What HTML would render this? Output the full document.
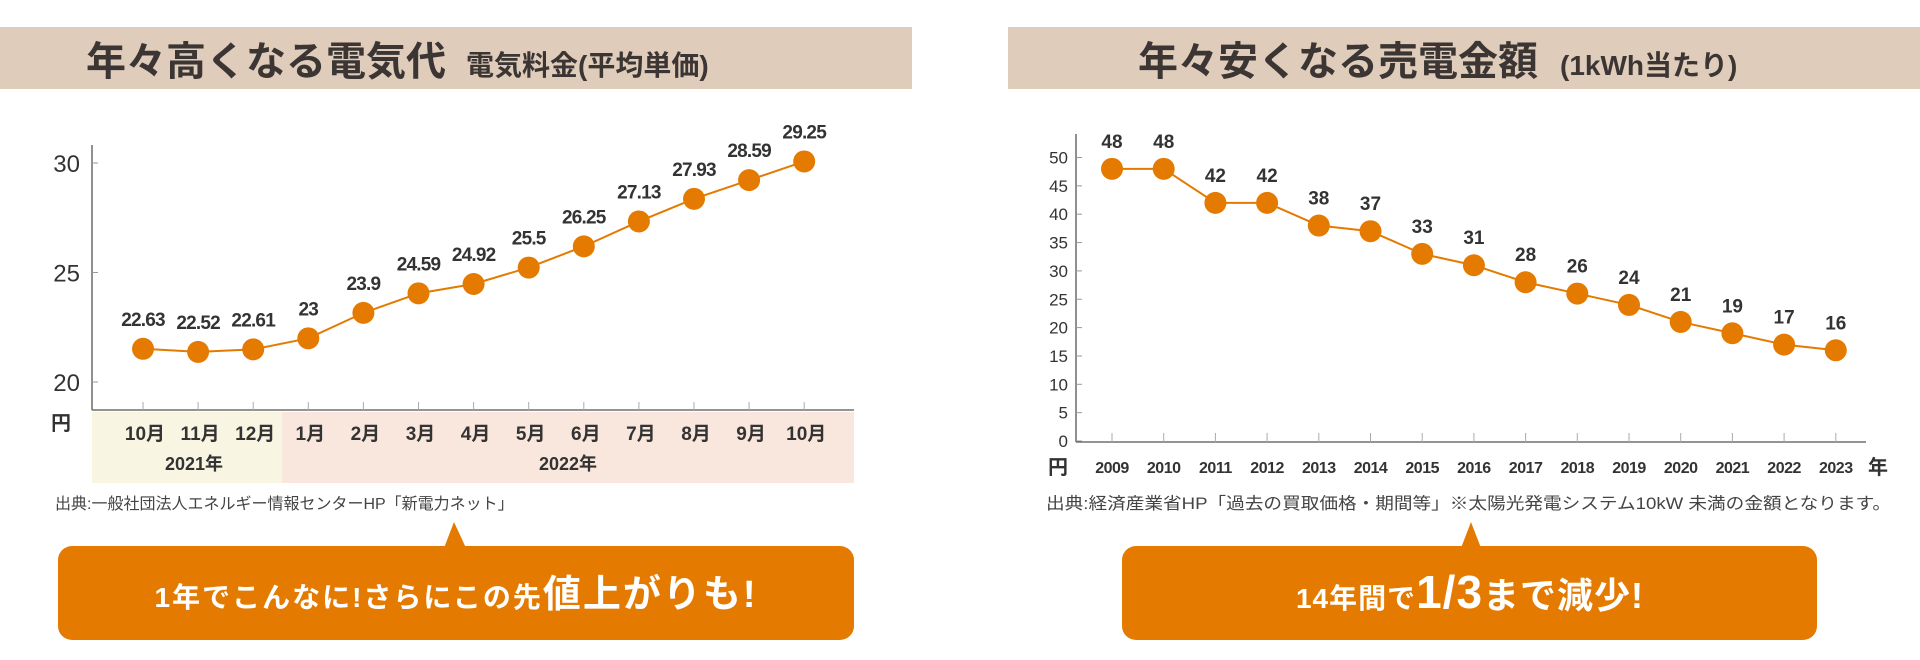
<!DOCTYPE html>
<html><head><meta charset="utf-8">
<style>
body{margin:0;background:#fff;}
svg{display:block;font-family:"Liberation Sans","Noto Sans CJK JP",sans-serif;}
</style></head>
<body>
<svg id="root" width="1920" height="660" viewBox="0 0 1920 660" xmlns="http://www.w3.org/2000/svg">
  <rect x="0" y="27" width="912" height="62" fill="#dfccbb"/>
  <text x="86" y="75" font-size="40" font-weight="bold" fill="#3b3633">年々高くなる電気代<tspan font-size="28" dx="20">電気料金(平均単価)</tspan></text>
  <rect x="1008" y="27" width="912" height="62" fill="#dfccbb"/>
  <text x="1138" y="75" font-size="40" font-weight="bold" fill="#3b3633">年々安くなる売電金額<tspan font-size="28" dx="22">(1kWh当たり)</tspan></text>

  <g id="leftChart"></g>
  <g id="rightChart"></g>

  <text x="55" y="509" font-size="16" fill="#444">出典:一般社団法人エネルギー情報センターHP「新電力ネット」</text>
  <text x="1046" y="509" font-size="16.5" fill="#444" textLength="845" lengthAdjust="spacingAndGlyphs">出典:経済産業省HP「過去の買取価格・期間等」※太陽光発電システム10kW 未満の金額となります。</text>

  <g>
    <polygon points="444,548 454,522 466,548" fill="#e47a00"/>
    <rect x="58" y="546" width="796" height="94" rx="14" fill="#e47a00"/>
    <text x="456" y="607" text-anchor="middle" font-size="28" font-weight="bold" fill="#fff" letter-spacing="2">1年でこんなに!さらにこの先<tspan font-size="38">値上がりも!</tspan></text>
  </g>
  <g>
    <polygon points="1461,548 1471,522 1481,548" fill="#e47a00"/>
    <rect x="1122" y="546" width="695" height="94" rx="14" fill="#e47a00"/>
    <text x="1470" y="608" text-anchor="middle" font-size="28" font-weight="bold" fill="#fff" letter-spacing="1">14年間で<tspan font-size="46">1/3</tspan><tspan font-size="36">まで減少!</tspan></text>
  </g>
</svg>
<script>
const NS = "http://www.w3.org/2000/svg";
// Left chart data
const leftCategories = ["10月","11月","12月","1月","2月","3月","4月","5月","6月","7月","8月","9月","10月"];
const leftValues = [22.63,22.52,22.61,23,23.9,24.59,24.92,25.5,26.25,27.13,27.93,28.59,29.25];
const leftLabels = ["22.63","22.52","22.61","23","23.9","24.59","24.92","25.5","26.25","27.13","27.93","28.59","29.25"];
const leftTicks = [20,25,30];
const leftYears = ["2021年","2022年"];
// Right chart data
const rightCategories = ["2009","2010","2011","2012","2013","2014","2015","2016","2017","2018","2019","2020","2021","2022","2023"];
const rightValues = [48,48,42,42,38,37,33,31,28,26,24,21,19,17,16];
const rightTicks = [0,5,10,15,20,25,30,35,40,45,50];

function mk(tag, attrs, parent){
  const e = document.createElementNS(NS, tag);
  for (const k in attrs) e.setAttribute(k, attrs[k]);
  parent.appendChild(e);
  return e;
}
const ORANGE = "#e47a00";

// ---- Left chart ----
(function(){
  const g = document.getElementById('leftChart');
  const x = i => 143 + i * 55.1;
  const y = v => 284 - (v - 24.92) * 28.3;
  const ty = v => 382 - (v - 20) * 21.9;
  // bands
  const b1 = mk('rect', {x:92, y:412, width:190, height:71, fill:'#f8f5e2'}, g);
  
  
  const b2 = mk('rect', {x:282, y:412, width:572, height:71, fill:'#f9e6dc'}, g);
  
  
  const yl1 = mk('text', {x:194, y:470, 'font-size':18, 'font-weight':'bold', fill:'#333', 'text-anchor':'middle'}, g);
  yl1.textContent = leftYears[0];
  
  
  const yl2 = mk('text', {x:568, y:470, 'font-size':18, 'font-weight':'bold', fill:'#333', 'text-anchor':'middle'}, g);
  yl2.textContent = leftYears[1];
  
  
  // axes
  const ya = mk('line', {x1:92, y1:145, x2:92, y2:410, stroke:'#555', 'stroke-width':1.3}, g);
  
  
  const xa = mk('line', {x1:92, y1:410, x2:854, y2:410, stroke:'#555', 'stroke-width':1.3}, g);
  
  
  leftTicks.forEach(v => {
    const t = mk('line', {x1:92, y1:ty(v), x2:98, y2:ty(v), stroke:'#999'}, g);
    
    
    const l = mk('text', {x:80, y:ty(v)+9, 'font-size':24, fill:'#333', 'text-anchor':'end'}, g);
    l.textContent = v;
    
    
  });
  const yu = mk('text', {x:61, y:430, 'font-size':20, 'font-weight':'bold', fill:'#333', 'text-anchor':'middle'}, g);
  yu.textContent = '円';
  
  
  leftCategories.forEach((c, i) => {
    const t = mk('line', {x1:x(i), y1:402, x2:x(i), y2:410, stroke:'#aaa'}, g);
    
    
    const l = mk('text', {x:x(i)+2, y:440, 'font-size':19, 'font-weight':'bold', fill:'#333', 'text-anchor':'middle'}, g);
    l.textContent = c;
    
    
  });
  const pts = leftValues.map((v, i) => x(i) + ',' + y(v)).join(' ');
  const line = mk('polyline', {points:pts, fill:'none', stroke:ORANGE, 'stroke-width':2}, g);
  
  
  leftValues.forEach((v, i) => {
    const c = mk('circle', {cx:x(i), cy:y(v), r:11, fill:ORANGE}, g);
    
    
    const l = mk('text', {x:x(i), y:y(v)-23, 'font-size':19, 'font-weight':'bold', fill:'#333', 'text-anchor':'middle', 'letter-spacing':-0.8}, g);
    l.textContent = leftLabels[i];
    
    
  });
})();

// ---- Right chart ----
(function(){
  const g = document.getElementById('rightChart');
  const x = i => 1112 + i * 51.7;
  const y = v => 441 - v * 5.67;
  const ya = mk('line', {x1:1076, y1:134, x2:1076, y2:442, stroke:'#555', 'stroke-width':1.3}, g);
  
  
  const xa = mk('line', {x1:1076, y1:442, x2:1866, y2:442, stroke:'#555', 'stroke-width':1.3}, g);
  
  
  rightTicks.forEach(v => {
    const t = mk('line', {x1:1076, y1:y(v), x2:1082, y2:y(v), stroke:'#999'}, g);
    
    
    const l = mk('text', {x:1068, y:y(v)+6, 'font-size':17, fill:'#333', 'text-anchor':'end'}, g);
    l.textContent = v;
    
    
  });
  const yu = mk('text', {x:1058, y:474, 'font-size':20, 'font-weight':'bold', fill:'#333', 'text-anchor':'middle'}, g);
  yu.textContent = '円';
  
  
  const xu = mk('text', {x:1878, y:474, 'font-size':20, 'font-weight':'bold', fill:'#333', 'text-anchor':'middle'}, g);
  xu.textContent = '年';
  
  
  rightCategories.forEach((c, i) => {
    const t = mk('line', {x1:x(i), y1:433, x2:x(i), y2:442, stroke:'#aaa'}, g);
    
    
    const l = mk('text', {x:x(i), y:473, 'font-size':16, 'font-weight':'bold', fill:'#333', 'text-anchor':'middle', 'letter-spacing':-0.5}, g);
    l.textContent = c;
    
    
  });
  const pts = rightValues.map((v, i) => x(i) + ',' + y(v)).join(' ');
  const line = mk('polyline', {points:pts, fill:'none', stroke:ORANGE, 'stroke-width':2}, g);
  
  
  rightValues.forEach((v, i) => {
    const c = mk('circle', {cx:x(i), cy:y(v), r:11, fill:ORANGE}, g);
    
    
    const l = mk('text', {x:x(i), y:y(v)-21, 'font-size':19, 'font-weight':'bold', fill:'#333', 'text-anchor':'middle'}, g);
    l.textContent = v;
    
    
  });
})();
</script>
</body></html>
